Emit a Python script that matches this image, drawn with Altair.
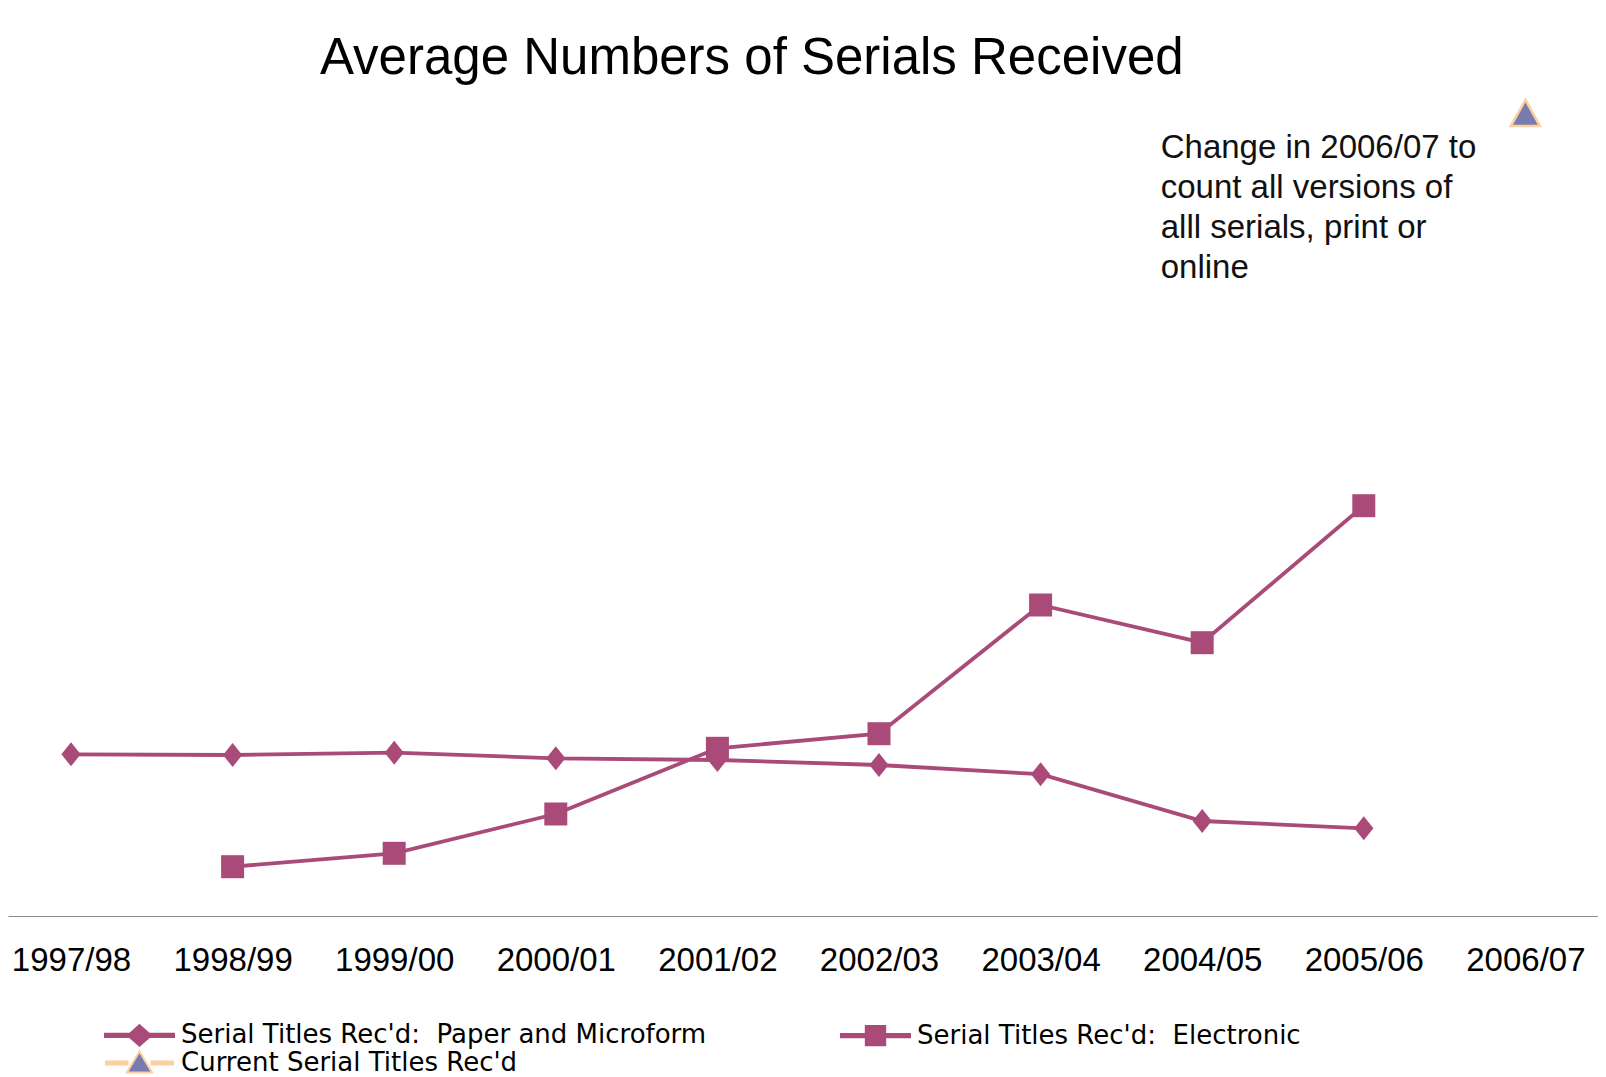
import altair as alt
import pandas as pd

# ---------------- data ----------------
years = ["1997/98", "1998/99", "1999/00", "2000/01", "2001/02",
         "2002/03", "2003/04", "2004/05", "2005/06", "2006/07"]
paper = [16170, 16100, 16330, 15770, 15600, 15100, 14180, 9500, 8770]          # 1997/98 .. 2005/06
electronic = [None, 4930, 6270, 10200, 16770, 18230, 31100, 27330, 41030]     # 1997/98 .. 2005/06
current = [80300]                                                              # 2006/07
series = ["Serial Titles Rec'd:\u00a0 Paper and Microform",
          "Serial Titles Rec'd:\u00a0 Electronic",
          "Current Serial Titles Rec'd"]
note_lines = ["Change in 2006/07 to", "count all versions of",
              "alll serials, print or", "online"]
note_year = "2004/05"
note_value = 75800

rows = []
for yr, v in zip(years, paper):
    rows.append({"year": yr, "value": v, "series": series[0]})
for yr, v in zip(years, electronic):
    if v is not None:
        rows.append({"year": yr, "value": v, "series": series[1]})
rows.append({"year": years[9], "value": current[0], "series": series[2]})
df = pd.DataFrame(rows)
note_df = pd.DataFrame([{"year": note_year, "value": note_value, "text": note_lines}])

# ---------------- styles ----------------
MAG = "#A94A78"
PURPLE = "#787BAE"
PEACH = "#FCCF9E"

DIAMOND = "M0,-1L0.8,0L0,1L-0.8,0Z"
TRIANGLE = "M0,-0.93L1.04,0.93L-1.04,0.93Z"

LEG_PAPER = "M-3.136,-0.14H3.136V0.14H-3.136Z M0,-0.93L1.05,0L0,0.93L-1.05,0Z"
LEG_ELEC = "M-3.136,-0.14H3.136V0.14H-3.136Z M-0.88,-0.88H0.88V0.88H-0.88Z"
LEG_CURR = ("M-3.136,-0.13H-1M-3.136,0H-1M-3.136,0.13H-1"
            "M1,-0.13H3.136M1,0H3.136M1,0.13H3.136"
            "M0,-1.04L1.14,0.87L-1.14,0.87Z")

XSCALE = alt.Scale(type="point", domain=years, padding=0.4196, align=0.4646)
YSCALE = alt.Scale(domain=[0, 83000], nice=False, zero=True)

x_enc = alt.X("year:N", scale=XSCALE,
              axis=alt.Axis(title=None, labelAngle=0, ticks=False, grid=False,
                            domainColor="#8c8c8c", domainWidth=1,
                            labelFont="Liberation Sans", labelFontSize=33,
                            labelColor="black", labelPadding=28, labelOverlap=False))
y_enc = alt.Y("value:Q", scale=YSCALE, axis=None)

base = alt.Chart(df).encode(x=x_enc, y=y_enc)

lines = base.transform_filter(
    alt.FieldOneOfPredicate(field="series", oneOf=series[:2])
).mark_line(color=MAG, strokeWidth=3.8).encode(detail="series:N")

pts_paper = base.transform_filter(alt.datum.series == series[0]).mark_point(
    shape=DIAMOND, size=576, filled=True, fill=MAG, stroke=MAG, strokeWidth=0, opacity=1)
pts_elec = base.transform_filter(alt.datum.series == series[1]).mark_point(
    shape="square", size=529, filled=True, fill=MAG, stroke=MAG, strokeWidth=0, opacity=1)
pts_curr = base.transform_filter(alt.datum.series == series[2]).mark_point(
    shape=TRIANGLE, size=784, filled=True, fill=PURPLE, stroke=PEACH, strokeWidth=2.5, opacity=1)

leg = alt.Legend(orient="none", legendX=118.5, legendY=936, columns=2, direction="horizontal",
                 columnPadding=130, rowPadding=-3, padding=0, title=None,
                 labelFont="DejaVu Sans", labelFontSize=26, labelColor="black",
                 labelLimit=1000, labelOffset=28.5, symbolSize=484,
                 symbolStrokeWidth=2, symbolOpacity=1, symbolOffset=0)

legend_layer = base.mark_point(filled=True, opacity=0).encode(
    shape=alt.Shape("series:N", scale=alt.Scale(domain=series, range=[LEG_PAPER, LEG_ELEC, LEG_CURR]), legend=leg),
    fill=alt.Fill("series:N", scale=alt.Scale(domain=series, range=[MAG, MAG, PURPLE]), legend=leg),
    stroke=alt.Stroke("series:N", scale=alt.Scale(domain=series, range=[MAG, MAG, PEACH]), legend=leg),
)

note = alt.Chart(note_df).mark_text(
    align="left", baseline="alphabetic", dx=-41.5, font="Liberation Sans",
    fontSize=33, lineHeight=40, color="#111111"
).encode(x=alt.X("year:N", scale=XSCALE),
         y=alt.Y("value:Q", scale=YSCALE),
         text="text")

chart = alt.layer(lines, pts_paper, pts_elec, pts_curr, legend_layer, note).properties(
    width=1590, height=830,
    background="white",
    title=alt.TitleParams(text="Average Numbers of Serials Received", anchor="start", dx=312, dy=50,
                          font="Liberation Sans", fontSize=51, fontWeight="normal",
                          color="black", offset=11, baseline="alphabetic"),
    autosize=alt.AutoSizeParams(type="none"),
    padding={"left": 0, "top": 78, "right": 0, "bottom": 160},
).configure_view(stroke=None)

chart.save("out.html", embed_options={"renderer": "svg", "actions": False})
